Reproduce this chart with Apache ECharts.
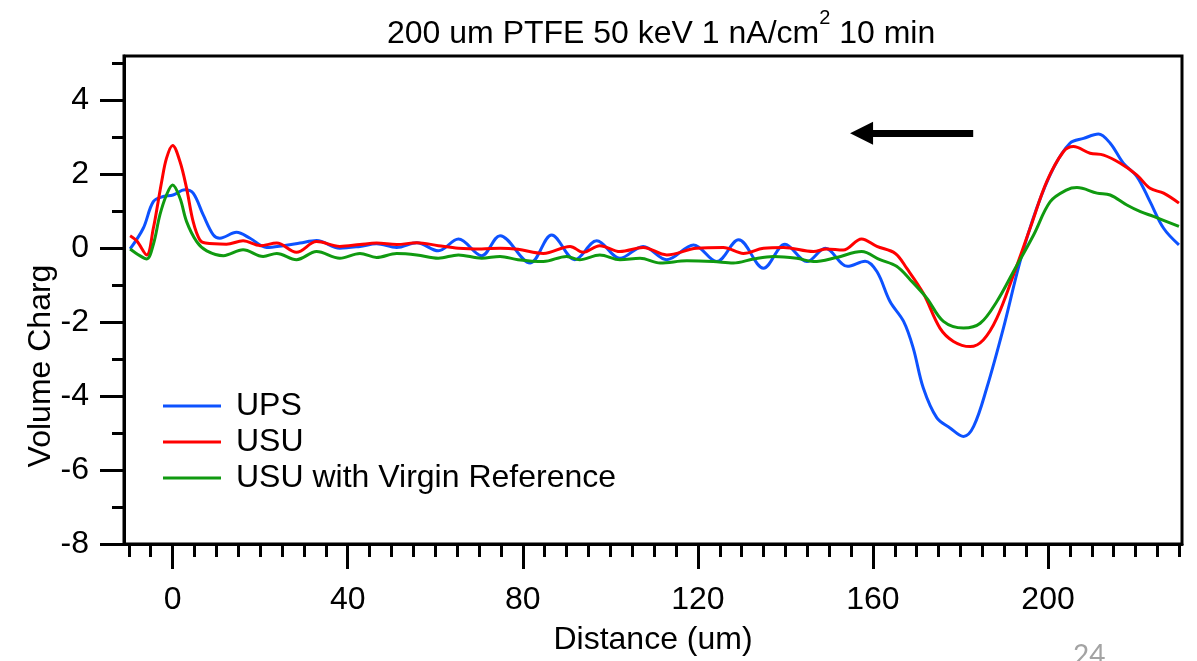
<!DOCTYPE html>
<html>
<head>
<meta charset="utf-8">
<title>Volume charge</title>
<script src="https://cdn.jsdelivr.net/npm/echarts@6.0.0/dist/echarts.min.js"></script>
<style>
  html, body { margin: 0; padding: 0; background: #fff; }
  #chart { width: 1197px; height: 661px; }
</style>
</head>
<body>
<div id="chart"></div>
<script>
// x = distance (um), y = volume charge
var upsData = [
  [-9.7, -0.02], [-6.7, 0.54], [-4.4, 1.26], [-2.1, 1.4], [0.1, 1.44], [2.8, 1.58], [4.7, 1.49],
  [7, 0.9], [9.3, 0.36], [10.8, 0.27], [14.6, 0.43], [17.7, 0.27], [21.5, 0.02], [25.3, 0.07],
  [29.1, 0.14], [32.9, 0.21], [38.2, 0], [42.8, 0.05], [46.6, 0.12], [51.2, 0.02], [55.8, 0.15],
  [60.7, -0.07], [65.3, 0.25], [70.6, -0.2], [74.8, 0.34], [81.7, -0.4], [86.6, 0.36], [91.9, -0.31],
  [96.9, 0.2], [102.2, -0.27], [107.5, 0.05], [112.9, -0.31], [119, 0.09], [124.3, -0.36],
  [129.3, 0.23], [135, -0.54], [139.9, 0.11], [144.9, -0.36], [149.1, 0], [154.2, -0.49],
  [158.2, -0.35], [160.9, -0.63], [163.9, -1.44], [167, -1.98], [169.2, -2.7], [171.5, -3.78],
  [174.6, -4.59], [177.6, -4.86], [180.7, -5.09], [183, -4.82], [186, -3.78], [189.8, -2.16],
  [193.6, -0.36], [197.4, 1.08], [201.2, 2.16], [205, 2.84], [208.1, 2.97], [211.5, 3.09],
  [214.2, 2.84], [217.2, 2.3], [220.3, 1.94], [223.3, 1.26], [226.4, 0.54], [229.9, 0.09]
];
var usuData = [
  [-9.7, 0.34], [-8.2, 0.2], [-5.9, -0.18], [-4.4, 0.54], [-3.3, 1.26], [-2.5, 1.8], [-1.4, 2.43],
  [0, 2.78], [1.7, 2.34], [3.2, 1.62], [4.7, 0.72], [6.2, 0.23], [7.5, 0.14], [12.3, 0.11],
  [16.1, 0.2], [20, 0.07], [23.8, 0.14], [28.3, -0.11], [32.9, 0.18], [38.2, 0.05], [42.8, 0.1],
  [46.6, 0.14], [51.2, 0.1], [55.8, 0.15], [60.7, 0.07], [65.3, 0], [70.6, -0.02], [74.8, 0],
  [78.9, -0.03], [84.7, -0.14], [90.8, 0.05], [93.8, -0.11], [97.6, 0.07], [102.2, -0.09],
  [107.5, 0.02], [112.9, -0.18], [119.7, 0], [125.8, 0.02], [130.4, -0.14], [135, 0], [139.6, 0.02],
  [146.4, -0.09], [149.4, -0.02], [153.2, -0.05], [157.4, 0.25], [160.9, 0.05], [165.1, -0.14],
  [167.7, -0.54], [171.5, -1.22], [175.3, -2.16], [178.4, -2.52], [182.2, -2.66], [185.2, -2.48],
  [188.3, -1.89], [192.1, -0.72], [195.9, 0.54], [199.7, 1.8], [203.5, 2.61], [205.8, 2.75],
  [209.6, 2.57], [212.7, 2.52], [216.5, 2.3], [220.3, 1.98], [223.3, 1.62], [226.4, 1.49], [229.9, 1.22]
];
var virginData = [
  [-9.7, -0.02], [-7.5, -0.2], [-5.9, -0.29], [-4.4, 0.1], [-2.9, 0.9], [-1.4, 1.44], [0, 1.71],
  [1.7, 1.35], [3.2, 0.72], [5.5, 0.18], [7.8, -0.07], [11.6, -0.2], [16.1, -0.04], [20.7, -0.22],
  [23.8, -0.14], [28.3, -0.31], [32.9, -0.09], [38.2, -0.27], [42.8, -0.14], [46.6, -0.25],
  [51.2, -0.14], [55.8, -0.18], [60.7, -0.27], [65.3, -0.18], [70.6, -0.27], [74.8, -0.22],
  [78.9, -0.31], [84.7, -0.36], [90, -0.22], [93, -0.31], [97.6, -0.18], [102.2, -0.31],
  [106.8, -0.27], [111.4, -0.4], [117.5, -0.34], [123.5, -0.36], [128.1, -0.4], [132.7, -0.29],
  [137.3, -0.22], [142.6, -0.27], [146.4, -0.36], [151.7, -0.25], [157.4, -0.09], [161.6, -0.31],
  [165.4, -0.49], [168.5, -0.85], [172.3, -1.35], [176.1, -1.98], [180.7, -2.16], [184.5, -2.03],
  [188.3, -1.44], [192.1, -0.63], [196.7, 0.36], [200.5, 1.26], [204.3, 1.58], [206.6, 1.64],
  [211.2, 1.49], [214.2, 1.44], [218, 1.17], [221.1, 0.99], [224.1, 0.86], [229.9, 0.59]
];

var seriesNames = ['UPS', 'USU', 'USU with Virgin Reference'];
var seriesColors = ['#0d52ff', '#ff0000', '#109a10'];

var xLabels = [0, 40, 80, 120, 160, 200];
var xMinorTicks = [];
for (var i = -10; i <= 230; i += 5) xMinorTicks.push(i);
var yLabels = [-8, -6, -4, -2, 0, 2, 4];
var yMinorTicks = [-7, -5, -3, -1, 1, 3, 5];

// the arrow drawn in the plot (tail -> head)
var arrowFrom = [182.9, 3.11];
var arrowTo = [157.4, 3.11];

var font = 'Liberation Sans, Arial, sans-serif';
var black = '#000';

var chart = echarts.init(document.getElementById('chart'), null, { renderer: 'canvas' });

function line(name, data, color) {
  return {
    name: name,
    type: 'line',
    data: data,
    smooth: 0.35,
    showSymbol: false,
    symbol: 'none',
    itemStyle: { color: color },
    lineStyle: { color: color, width: 3 },
    animation: false,
    silent: true
  };
}

var series = [
  line(seriesNames[0], upsData, seriesColors[0]),
  line(seriesNames[1], usuData, seriesColors[1]),
  line(seriesNames[2], virginData, seriesColors[2])
];
series[0].markLine = {
  silent: true,
  animation: false,
  symbol: ['none', 'triangle'],
  symbolSize: [23, 23],
  label: { show: false },
  lineStyle: { color: black, width: 7, type: 'solid' },
  emphasis: { disabled: true },
  data: [[{ coord: arrowFrom }, { coord: arrowTo }]]
};

var option = {
  backgroundColor: '#fff',
  animation: false,
  textStyle: { fontFamily: font },
  title: {
    left: 387,
    top: 8,
    padding: 0,
    text: '{m|200 um PTFE 50 keV 1 nA/cm}{s|2}{m| 10 min}',
    textStyle: {
      fontWeight: 'normal',
      rich: {
        m: { fontSize: 32, lineHeight: 42, color: black, fontFamily: font, fontWeight: 'normal', verticalAlign: 'bottom' },
        s: { fontSize: 20, lineHeight: 20, color: black, fontFamily: font, fontWeight: 'normal', verticalAlign: 'top' }
      }
    }
  },
  legend: {
    orient: 'vertical',
    left: 163,
    top: 390,
    padding: 0,
    itemGap: 4,
    itemWidth: 58,
    itemHeight: 3,
    icon: 'rect',
    selectedMode: false,
    data: seriesNames,
    textStyle: { fontSize: 32, lineHeight: 32, color: black, fontFamily: font, padding: [0, 0, 0, 10] }
  },
  grid: {
    left: 124,
    right: 15,
    top: 56,
    bottom: 117,
    show: true,
    borderColor: black,
    borderWidth: 3,
    outerBoundsMode: 'none'
  },
  xAxis: [
    {
      type: 'value',
      position: 'bottom',
      min: -11.1,
      max: 230.6,
      name: 'Distance (um)',
      nameLocation: 'middle',
      nameGap: 80,
      nameTextStyle: { fontSize: 32, color: black, fontFamily: font },
      axisLine: { show: true, onZero: false, lineStyle: { color: black, width: 3 } },
      axisTick: { show: true, customValues: xLabels, length: 25, lineStyle: { color: black, width: 3 } },
      axisLabel: { customValues: xLabels, fontSize: 32, color: black, margin: 40, fontFamily: font },
      splitLine: { show: false }
    },
    {
      type: 'value',
      position: 'bottom',
      min: -11.1,
      max: 230.6,
      axisLine: { show: false, onZero: false },
      axisTick: { show: true, customValues: xMinorTicks, length: 13, lineStyle: { color: black, width: 3 } },
      axisLabel: { show: false },
      splitLine: { show: false }
    }
  ],
  yAxis: [
    {
      type: 'value',
      position: 'left',
      min: -8,
      max: 5.2,
      axisLine: { show: true, onZero: false, lineStyle: { color: black, width: 3 } },
      axisTick: { show: true, customValues: yLabels, length: 24, lineStyle: { color: black, width: 3 } },
      axisLabel: { customValues: yLabels, fontSize: 32, color: black, margin: 35, fontFamily: font },
      splitLine: { show: false }
    },
    {
      type: 'value',
      position: 'left',
      min: -8,
      max: 5.2,
      axisLine: { show: false, onZero: false },
      axisTick: { show: true, customValues: yMinorTicks, length: 12, lineStyle: { color: black, width: 3 } },
      axisLabel: { show: false },
      splitLine: { show: false }
    }
  ],
  graphic: [
    {
      type: 'text',
      x: 41,
      y: 366,
      rotation: Math.PI / 2,
      silent: true,
      style: { text: 'Volume Charg', font: '32px ' + font, fill: black, align: 'center', verticalAlign: 'middle' }
    },
    {
      type: 'text',
      left: 1073,
      top: 642,
      silent: true,
      style: { text: '24', font: '28px Lato, sans-serif', fill: '#a3a3a3' }
    }
  ],
  series: series
};

chart.setOption(option);
</script>
</body>
</html>
